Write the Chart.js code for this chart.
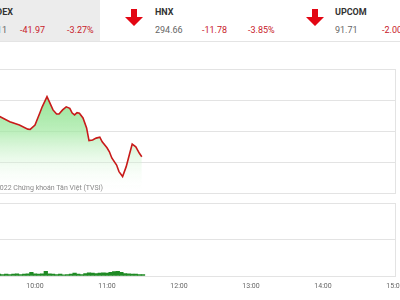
<!DOCTYPE html>
<html>
<head>
<meta charset="utf-8">
<script src="https://cdn.jsdelivr.net/npm/chart.js@4.4.1/dist/chart.umd.min.js"></script>
<style>
  html, body { margin: 0; padding: 0; background: #fff; }
  body { width: 400px; height: 300px; overflow: hidden; position: relative; font-family: Roboto, sans-serif; }
  .t { position: absolute; font-size: 9px; line-height: 10px; white-space: nowrap; color: #666; }
  .b { font-weight: bold; color: #333; }
  .r { color: #c8202a; }
  canvas { position: absolute; }
</style>
</head>
<body>
<div style="position:absolute;left:0;top:0;width:100px;height:41px;background:#ececec"></div>
<div style="position:absolute;left:0;top:41px;width:400px;height:1px;background:#e4e4e4"></div>

<span class="t b" style="right:387px;top:7px">VNINDEX</span>
<span class="t" style="right:393px;top:25px">1241.11</span>
<span class="t r" style="left:20px;top:25px">-41.97</span>
<span class="t r" style="left:67px;top:25px">-3.27%</span>

<svg style="position:absolute;left:125px;top:9px" width="18" height="17" viewBox="0 0 18 17"><path d="M6,0 h6 v8 h6 l-9,9 l-9,-9 h6 z" fill="#e30613"/></svg>
<span class="t b" style="left:155px;top:7px">HNX</span>
<span class="t" style="left:155px;top:25px">294.66</span>
<span class="t r" style="left:202px;top:25px">-11.78</span>
<span class="t r" style="left:248px;top:25px">-3.85%</span>

<svg style="position:absolute;left:306px;top:9px" width="18" height="17" viewBox="0 0 18 17"><path d="M6,0 h6 v8 h6 l-9,9 l-9,-9 h6 z" fill="#e30613"/></svg>
<span class="t b" style="left:335px;top:7px">UPCOM</span>
<span class="t" style="left:335px;top:25px">91.71</span>
<span class="t r" style="left:382px;top:25px">-2.00</span>

<canvas id="giaChart" width="472" height="140" style="left:-57px;top:60px"></canvas>
<canvas id="klChart" width="472" height="102" style="left:-57px;top:198px"></canvas>
<span class="t" style="right:297px;top:183px;font-size:7px;color:#888">©2022 Chứng khoán Tân Việt (TVSI)</span>

<script>
// VN-Index trong phien
const gioGia = ['9:15', '9:20', '9:25', '9:31', '9:33', '9:39', '9:47', '9:54', '9:56', '10:00',
  '10:04', '10:06', '10:10', '10:12', '10:15', '10:18', '10:20', '10:23', '10:26', '10:29',
  '10:31', '10:33', '10:35', '10:37', '10:40', '10:43', '10:45', '10:48', '10:51', '10:54',
  '10:56', '11:00', '11:02', '11:04', '11:08', '11:10', '11:13', '11:16', '11:19', '11:21',
  '11:24', '11:27', '11:29']
const diem = [1257.5, 1256.2, 1255.8, 1254.7, 1254.3, 1253.1, 1252.0, 1250.7, 1250.6, 1252.0,
  1255.9, 1257.9, 1261.2, 1259.5, 1256.9, 1255.6, 1255.6, 1256.9, 1257.9, 1257.4,
  1255.9, 1255.3, 1256.0, 1255.8, 1254.3, 1251.1, 1247.0, 1247.2, 1247.8, 1248.1,
  1246.6, 1244.7, 1243.4, 1241.4, 1239.1, 1237.0, 1235.4, 1238.6, 1243.0, 1245.9,
  1245.0, 1242.9, 1241.8]

// khoi luong (trieu cp / 3 phut)
const gioKL = ['9:15', '9:18', '9:21', '9:24', '9:27', '9:30', '9:33', '9:36', '9:39', '9:42',
  '9:45', '9:48', '9:51', '9:54', '9:57', '10:00', '10:03', '10:06', '10:09', '10:12',
  '10:15', '10:18', '10:21', '10:24', '10:27', '10:30', '10:33', '10:36', '10:39', '10:42',
  '10:45', '10:48', '10:51', '10:54', '10:57', '11:00', '11:03', '11:06', '11:09', '11:12',
  '11:15', '11:18', '11:21', '11:24', '11:27', '11:30']
const khoiLuong = [6, 5, 5, 4, 5, 5, 4, 5, 4, 5,
  6, 4, 5, 6, 10, 6, 5, 6, 13, 6,
  5, 4, 5, 3, 4, 5, 8, 5, 4, 7,
  9, 8, 7, 8, 9, 8, 10, 12, 13, 10,
  7, 6, 5, 5, 4, 4]

const nhanGio = ['9:00', '10:00', '11:00', '12:00', '13:00', '14:00', '15:00']
const vachGia = [1230, 1240, 1250, 1260, 1270]

function phut(s) {
  let p = s.split(':')
  return (Number(p[0]) - 9) * 60 + Number(p[1])
}

const mauLuoi = '#e3e3e3'
const truc_x = {
  type: 'linear',
  min: 0,
  max: 360,
  offset: false,
  grid: { display: false, drawTicks: false, tickLength: 0 },
  border: { display: false },
}

const giaCanvas = document.getElementById('giaChart')
const giaChart = new Chart(giaCanvas, {
  type: 'line',
  data: {
    datasets: [{
      data: gioGia.map((g, i) => ({ x: phut(g), y: diem[i] })),
      borderColor: '#c81a1a',
      borderWidth: 1.6,
      pointRadius: 0,
      tension: 0,
      fill: 'start',
      backgroundColor: ctx => {
        let area = ctx.chart.chartArea
        if (!area) return 'rgba(140,225,140,0.6)'
        let g = ctx.chart.ctx.createLinearGradient(0, area.top, 0, area.bottom)
        g.addColorStop(0, 'rgba(100,212,100,0.9)')
        g.addColorStop(0.5, 'rgba(160,232,160,0.7)')
        g.addColorStop(1, 'rgba(255,255,255,0)')
        return g
      },
    }],
  },
  options: {
    responsive: false,
    devicePixelRatio: 1,
    animation: false,
    layout: { padding: { left: 20, right: 20, top: 9.3, bottom: 6.7 } },
    plugins: { legend: { display: false }, tooltip: { enabled: false } },
    scales: {
      x: { ...truc_x, display: false },
      y: {
        position: 'right',
        min: vachGia[0],
        max: vachGia[vachGia.length - 1],
        afterBuildTicks: axis => { axis.ticks = vachGia.map(v => ({ value: v })) },
        ticks: { display: false },
        grid: { color: mauLuoi, drawTicks: false },
        border: { display: true, color: mauLuoi },
      },
    },
  },
})

const klCanvas = document.getElementById('klChart')
const klChart = new Chart(klCanvas, {
  type: 'bar',
  data: {
    datasets: [{
      data: gioKL.map((g, i) => ({ x: phut(g), y: khoiLuong[i] })),
      backgroundColor: '#1f8a24',
      barPercentage: 1,
      categoryPercentage: 1,
    }],
  },
  options: {
    responsive: false,
    devicePixelRatio: 1,
    animation: false,
    layout: { padding: { left: 20, right: 20, top: 5.3, bottom: 3.6 } },
    plugins: { legend: { display: false }, tooltip: { enabled: false } },
    scales: {
      x: {
        ...truc_x,
        afterBuildTicks: axis => { axis.ticks = nhanGio.map(s => ({ value: phut(s) })) },
        ticks: {
          padding: 6,
          maxRotation: 0,
          autoSkip: false,
          color: '#666',
          font: { family: 'Roboto', size: 7 },
          callback: (v, i) => nhanGio[i],
        },
      },
      y: {
        position: 'right',
        min: 0,
        max: 200,
        ticks: { display: false, stepSize: 100 },
        grid: { color: mauLuoi, drawTicks: false },
        border: { display: true, color: mauLuoi },
      },
    },
  },
})
</script>
</body>
</html>
